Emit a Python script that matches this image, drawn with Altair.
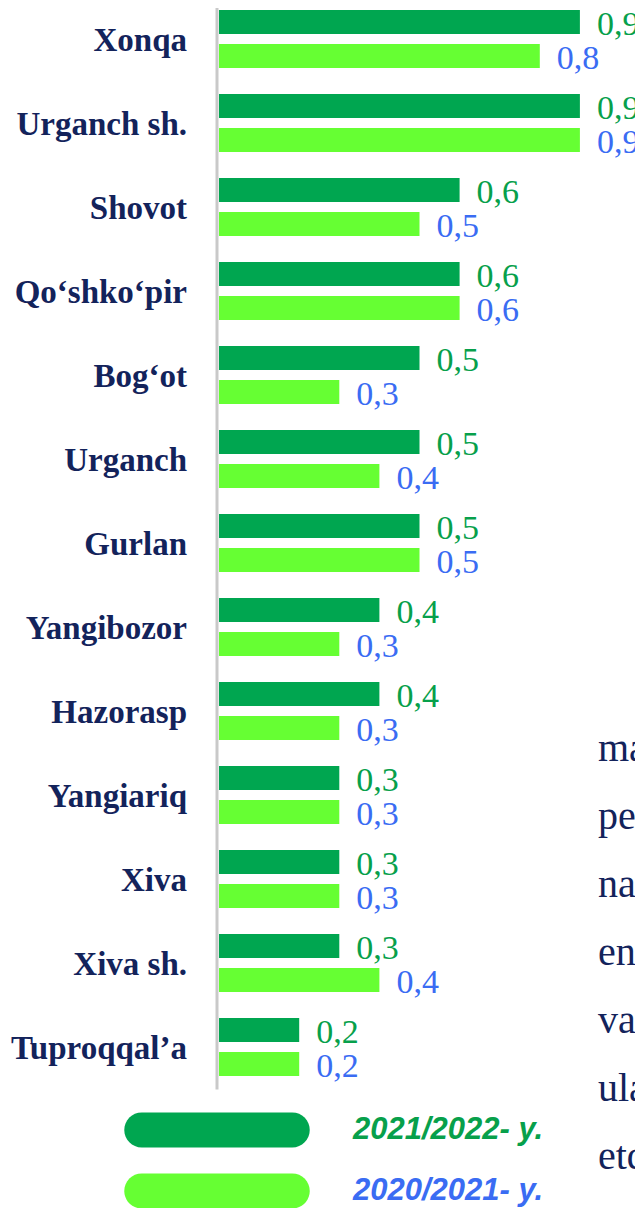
import altair as alt
import pandas as pd

categories = ["Xonqa", "Urganch sh.", "Shovot", "Qo‘shko‘pir", "Bog‘ot", "Urganch",
              "Gurlan", "Yangibozor", "Hazorasp", "Yangiariq", "Xiva", "Xiva sh.",
              "Tuproqqal’a"]
series = ["2021/2022- y.", "2020/2021- y."]
values_2022 = [0.9, 0.9, 0.6, 0.6, 0.5, 0.5, 0.5, 0.4, 0.4, 0.3, 0.3, 0.3, 0.2]
values_2021 = [0.8, 0.9, 0.5, 0.6, 0.3, 0.4, 0.5, 0.3, 0.3, 0.3, 0.3, 0.4, 0.2]
fragments = ["ma", "peo", "naf", "eng", "va", "ula", "etd", "Tu"]

bar_colors = ["#00A650", "#66FF33"]
text_colors = ["#07A04B", "#3A6CF3"]
navy = "#13235B"

rows = []
for c, a, b in zip(categories, values_2022, values_2021):
    rows.append({"region": c, "series": series[0], "value": a})
    rows.append({"region": c, "series": series[1], "value": b})
df = pd.DataFrame(rows)

y_axis = alt.Axis(title=None, ticks=False, grid=False, domainColor="#C9C9C9",
                  domainWidth=3, offset=2.5, labelFont="Liberation Serif",
                  labelFontWeight="bold", labelFontSize=33, labelColor=navy,
                  labelPadding=30, labelOffset=2, labelLimit=300)
y_enc = alt.Y("region:N", sort=categories,
              scale=alt.Scale(range=[-11, 1081], paddingInner=0, paddingOuter=0),
              axis=y_axis)
yoff = alt.YOffset("series:N", sort=series,
                   scale=alt.Scale(domain=series, paddingInner=0.294, paddingOuter=0.382))
x_enc = alt.X("value:Q", scale=alt.Scale(domain=[0, 1], range=[0, 401], nice=False), axis=None)

stadium = "M -4.3 -1 L 4.3 -1 A 1 1 0 0 1 4.3 1 L -4.3 1 A 1 1 0 0 1 -4.3 -1 Z"

bars = alt.Chart(df).mark_bar().encode(
    x=x_enc, y=y_enc, yOffset=yoff,
    color=alt.Color("series:N", sort=series,
                    scale=alt.Scale(domain=series, range=bar_colors),
                    legend=alt.Legend(orient="none", legendX=-19.5, legendY=1104.5,
                                      title=None, padding=0,
                                      symbolType=stadium, symbolSize=1225,
                                      symbolStrokeWidth=0, symbolOpacity=1,
                                      rowPadding=26, labelOffset=118.5,
                                      labelFont="Liberation Sans", labelFontSize=31,
                                      labelFontStyle="italic", labelFontWeight="bold",
                                      labelColor={"expr": "datum.label === '2021/2022- y.' ? '#07A04B' : '#3A6CF3'"},
                                      labelLimit=400)),
)

texts = alt.Chart(df).transform_calculate(
    label="replace(format(datum.value, '.1f'), '.', ',')"
).mark_text(align="left", baseline="middle", dx=17, dy=3,
            font="Liberation Serif", fontSize=34).encode(
    x=x_enc, y=y_enc, yOffset=yoff,
    text="label:N",
    color=alt.Color("series:N", sort=series,
                    scale=alt.Scale(domain=series, range=text_colors), legend=None),
)

frag = alt.Chart(alt.Data(values=[{"k": 0}])).mark_text(
    text=fragments, lineHeight=68, align="left", baseline="top",
    font="Liberation Serif", fontSize=40, color=navy
).encode(x=alt.value(379), y=alt.value(721))

chart = alt.layer(bars, texts, frag).resolve_scale(color="independent").properties(
    width=416, height=1200,
    padding={"left": 211, "top": 0, "right": 0, "bottom": 0},
    autosize="none",
).configure_view(stroke=None)

chart.save("out.html", embed_options={"renderer": "svg", "actions": False})
